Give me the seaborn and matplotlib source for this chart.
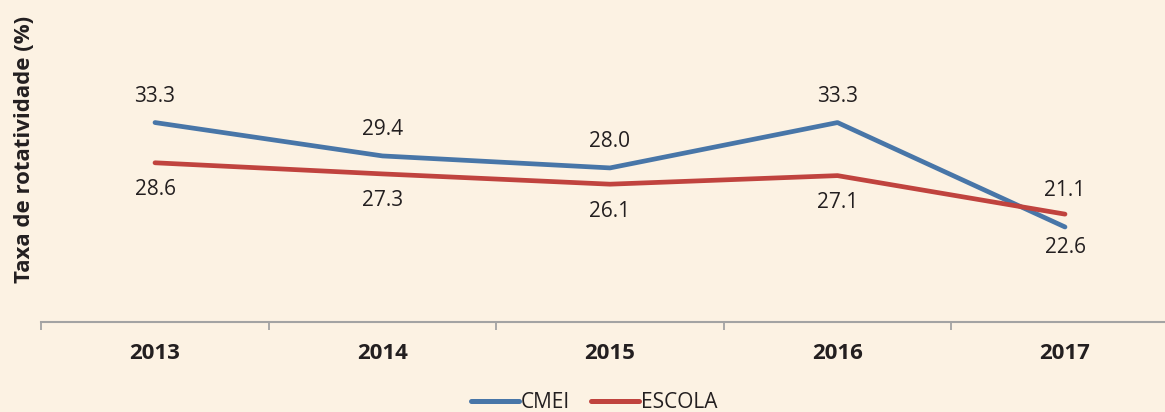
import matplotlib
matplotlib.use("Agg")
import matplotlib.pyplot as plt
import seaborn as sns
import pandas as pd
from matplotlib.lines import Line2D

years = ["2013", "2014", "2015", "2016", "2017"]
cmei = [33.3, 29.4, 28.0, 33.3, 21.1]
escola = [28.6, 27.3, 26.1, 27.1, 22.6]
series_names = ["CMEI", "ESCOLA"]

bg = "#fcf2e3"
colors = {"CMEI": "#4876a8", "ESCOLA": "#c0433e"}
txt = "#231f20"

sns.set_theme(style="white")
plt.rcParams["font.family"] = ["Open Sans", "Noto Sans", "DejaVu Sans"]

df = pd.DataFrame({
    "x": list(range(len(years))) * 2,
    "year": years * 2,
    "value": cmei + escola,
    "serie": [series_names[0]] * len(years) + [series_names[1]] * len(years),
})

fig = plt.figure(figsize=(11.65, 4.12), dpi=100, facecolor=bg)
ax = fig.add_axes([41.25 / 1165, 90 / 412, 1137.5 / 1165, 322 / 412])
ax.set_facecolor(bg)

sns.lineplot(data=df, x="x", y="value", hue="serie", palette=colors,
             linewidth=3.4, ax=ax, legend=False, solid_capstyle="round")

ax.set_xlim(-0.5, len(years) - 0.5)
ax.set_ylim(10, 10 + 322 / 8.56)

n = len(years)
for i in range(n):
    up = 36 if i == n - 1 else 26
    dn = 33 if i == n - 1 else 27
    ax.annotate(f"{cmei[i]:.1f}", (i, cmei[i]), xytext=(0, up * 0.72),
                textcoords="offset points", ha="center", va="center",
                fontsize=15, color=txt)
    ax.annotate(f"{escola[i]:.1f}", (i, escola[i]), xytext=(0, -dn * 0.72),
                textcoords="offset points", ha="center", va="center",
                fontsize=15, color=txt)

for s in ["top", "right", "left"]:
    ax.spines[s].set_visible(False)
ax.spines["bottom"].set_color("#a3a3a3")
ax.spines["bottom"].set_linewidth(1.5)

ax.set_yticks([])
ax.set_xticks(range(n))
ax.set_xticklabels(years, fontsize=16, fontweight="bold", color=txt)
ax.tick_params(axis="x", which="major", length=0, pad=15)
ax.set_xticks([i - 0.5 for i in range(n + 1)], minor=True)
ax.tick_params(axis="x", which="minor", bottom=True, length=5.5, width=1.3,
               color="#a3a3a3", direction="out")

ax.set_xlabel("")
ax.set_ylabel("Taxa de rotatividade (%)", fontsize=16, fontweight="bold", color=txt)
ax.yaxis.set_label_coords(-0.0145, 0.535)
ax.yaxis.label.set_va("center")
ax.yaxis.label.set_ha("center")

handles = [Line2D([0], [0], color=colors[s], lw=3.6, solid_capstyle="round") for s in series_names]
fig.legend(handles, series_names, loc="center", bbox_to_anchor=(594 / 1165, 1 - 403 / 412),
           ncol=2, frameon=False, fontsize=15, handlelength=2.3, handletextpad=0.1,
           columnspacing=1.0, labelcolor=txt)

fig.savefig("out.png", dpi=100, facecolor=bg)
